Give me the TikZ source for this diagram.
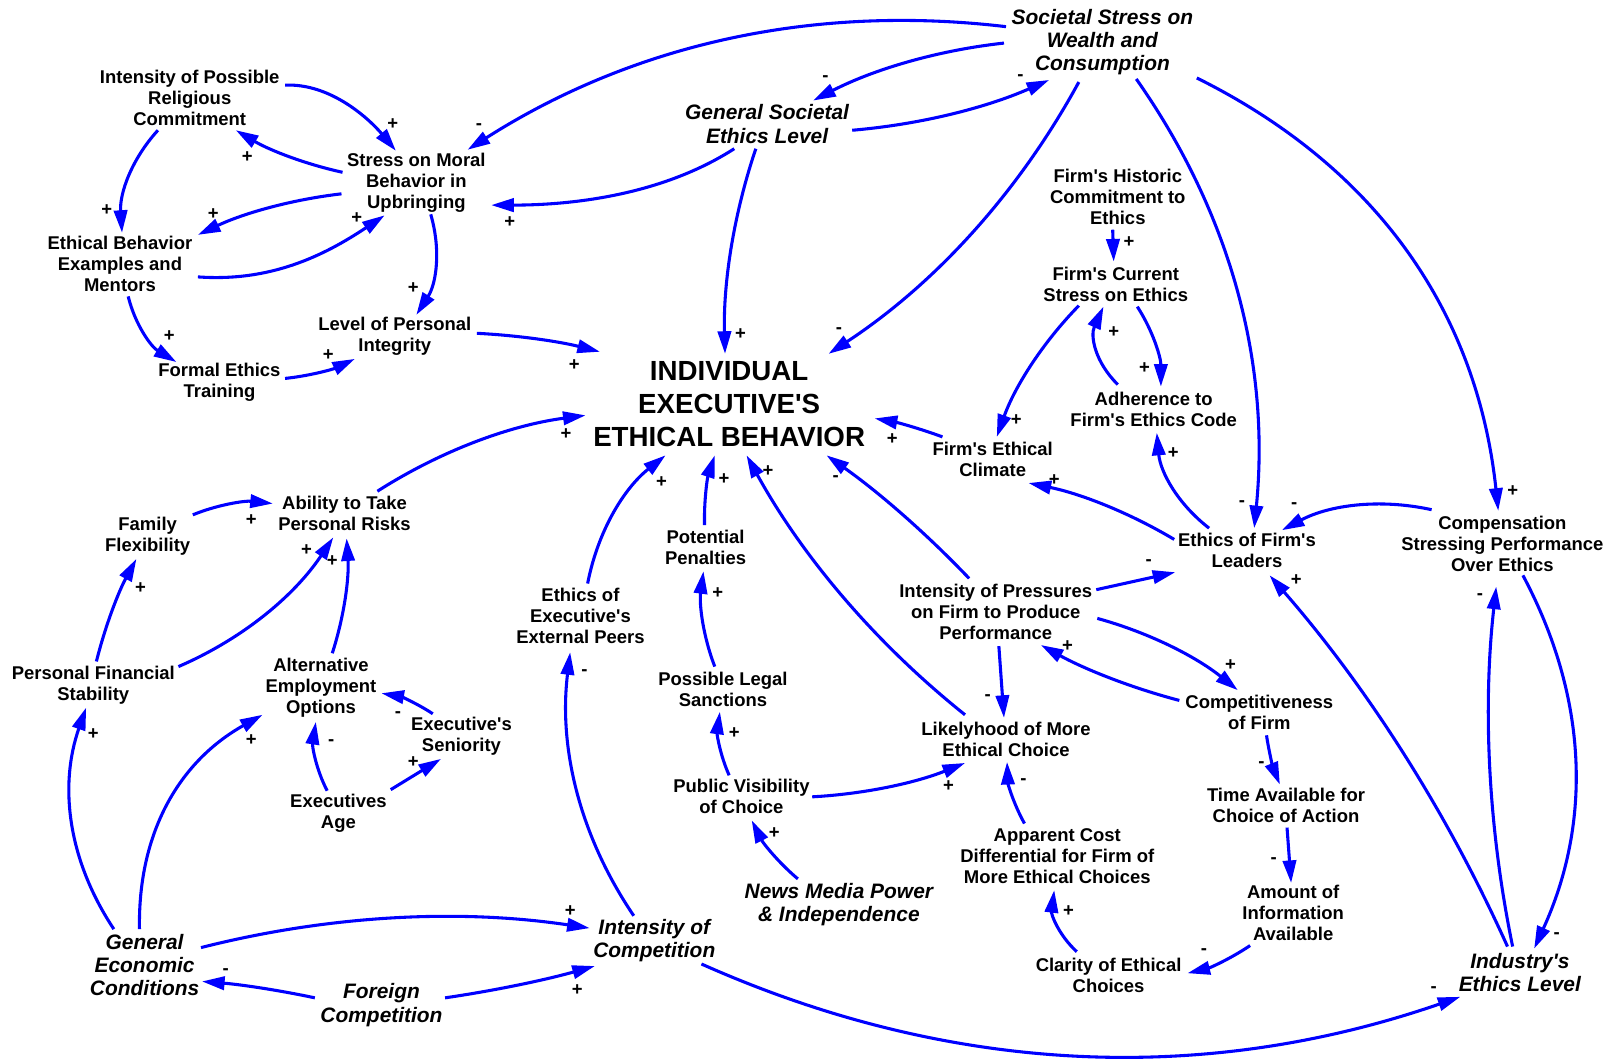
\documentclass[tikz,border=0pt]{standalone}
\usepackage{fontspec}
\setmainfont{Liberation Sans}
\usetikzlibrary{arrows.meta,calc}
\definecolor{linkblue}{RGB}{0,0,255}
\newcommand\ap{\textquotesingle}
\begin{document}
\begin{tikzpicture}[x=0.5pt,y=-0.5pt,
  v/.style={font=\bfseries\fontsize{9}{10.25}\selectfont,align=center,inner sep=0pt},
  ex/.style={font=\bfseries\itshape\fontsize{10.2}{11.3}\selectfont,align=center,inner sep=0pt},
  core/.style={font=\bfseries\fontsize{13.5}{16}\selectfont,align=center,inner sep=0pt},
  sg/.style={font=\bfseries\fontsize{9}{9}\selectfont,inner sep=0pt},
  lk/.style={draw=linkblue,line width=1.5pt,-{Triangle[length=11pt,width=6.5pt]}},
  bulge/.style={to path={.. controls ($(\tikztostart)!0.3333!(\tikztotarget)!#1!90:(\tikztotarget)$) and ($(\tikztotarget)!0.3333!(\tikztostart)!#1!-90:(\tikztostart)$) .. (\tikztotarget)}},
  bulge/.default=0pt]
\fill[white] (0,0) rectangle (1568,1035);
\useasboundingbox (0,0) rectangle (1568,1035);

% ---------- variables ----------
\node[ex] (SS) at (1075,41) {Societal Stress on\\Wealth and\\Consumption};
\node[ex] (GSE) at (748,121) {General Societal\\Ethics Level};
\node[v] (IPR) at (185,95) {Intensity of Possible\\Religious\\Commitment};
\node[v] (SMB) at (406,178) {Stress on Moral\\Behavior in\\Upbringing};
\node[v] (EBE) at (117,257) {Ethical Behavior\\Examples and\\Mentors};
\node[v] (LPI) at (385,328) {Level of Personal\\Integrity};
\node[v] (FET) at (214,373) {Formal Ethics\\Training};
\node[core] (IEEB) at (711,394) {INDIVIDUAL\\EXECUTIVE\ap S\\ETHICAL BEHAVIOR};
\node[v] (FHC) at (1090,192) {Firm\ap s Historic\\Commitment to\\Ethics};
\node[v] (FCS) at (1088,277) {Firm\ap s Current\\Stress on Ethics};
\node[v] (AFC) at (1125,399) {Adherence to\\Firm\ap s Ethics Code};
\node[v] (FEC) at (968,448) {Firm\ap s Ethical\\Climate};
\node[v] (EFL) at (1216,537) {Ethics of Firm\ap s\\Leaders};
\node[v] (CSP) at (1465,530) {Compensation\\Stressing Performance\\Over Ethics};
\node[v] (IPF) at (971,597) {Intensity of Pressures\\on Firm to Produce\\Performance};
\node[v] (CF) at (1228,695) {Competitiveness\\of Firm};
\node[v] (TA) at (1254,785) {Time Available for\\Choice of Action};
\node[v] (AI) at (1261,890) {Amount of\\Information\\Available};
\node[v] (CEC) at (1081,951) {Clarity of Ethical\\Choices};
\node[v] (ACD) at (1031,835) {Apparent Cost\\Differential for Firm of\\More Ethical Choices};
\node[v] (LMC) at (981,721) {Likelyhood of More\\Ethical Choice};
\node[v] (PVC) at (723,777) {Public Visibility\\of Choice};
\node[ex] (NMP) at (818,882) {News Media Power\\\& Independence};
\node[v] (PLS) at (705,672) {Possible Legal\\Sanctions};
\node[v] (PP) at (688,534) {Potential\\Penalties};
\node[v] (EEP) at (566,601) {Ethics of\\Executive\ap s\\External Peers};
\node[ex] (IC) at (638,917) {Intensity of\\Competition};
\node[v] (ATR) at (336,501) {Ability to Take\\Personal Risks};
\node[v] (FF) at (144,523) {Family\\Flexibility};
\node[v] (PFS) at (91,668) {Personal Financial\\Stability};
\node[v] (AEO) at (313,671) {Alternative\\Employment\\Options};
\node[v] (ES) at (450,718) {Executive\ap s\\Seniority};
\node[v] (EA) at (330,793) {Executives\\Age};
\node[ex] (GEC) at (141,941) {General\\Economic\\Conditions};
\node[ex] (FC) at (372,980) {Foreign\\Competition};
\node[ex] (IEL) at (1482,948) {Industry\ap s\\Ethics Level};

% ---------- links ----------
\draw[lk] ($(SS)+(-94,-15)$) to[bulge=-32pt] ($(SMB)+(50,-32)$);
\draw[lk] ($(SS)+(-96,1)$) to[bulge=-6pt] ($(GSE)+(45,-23)$);
\draw[lk] ($(GSE)+(83,6)$) to[bulge=-5.5pt] ($(SS)+(-52,37)$);
\draw[lk] ($(GSE)+(-32,24)$) .. controls +(-70,45) and +(80,0) .. ($(SMB)+(73,22)$);
\draw[lk] ($(IPR)+(93,-12)$) .. controls +(45,-2) and +(-25,-30) .. ($(SMB)+(-20,-31)$);
\draw[lk] ($(SMB)+(-72,-10)$) to[bulge=3pt] ($(IPR)+(45,32)$);
\draw[lk] ($(IPR)+(-31,32)$) to[bulge=-7.5pt] ($(EBE)+(2,-30)$);
\draw[lk] ($(SMB)+(-73,11)$) to[bulge=-4pt] ($(EBE)+(76,-28)$);
\draw[lk] ($(EBE)+(76,13)$) .. controls +(70,5) and +(-60,40) .. ($(SMB)+(-31,32)$);
\draw[lk] ($(EBE)+(8,32)$) to[bulge=-5.5pt] ($(FET)+(-42,-20)$);
\draw[lk] ($(FET)+(64,-4)$) to[bulge=-2pt] ($(LPI)+(-39,22)$);
\draw[lk] ($(SMB)+(14,31)$) to[bulge=7.5pt] ($(LPI)+(21,-21)$);
\draw[lk] ($(LPI)+(80,-3)$) to[bulge=2pt] ($(IEEB)+(-126,-51)$);
\draw[lk] ($(GSE)+(-11,24)$) to[bulge=-6pt] ($(IEEB)+(-4,-49)$);
\draw[lk] ($(SS)+(-23,39)$) to[bulge=15pt] ($(IEEB)+(97,-49)$);
\draw[lk] ($(SS)+(33,36)$) to[bulge=28pt] ($(EFL)+(7,-22)$);
\draw[lk] ($(SS)+(92,35)$) to[bulge=47pt] ($(CSP)+(-4,-32)$);
\draw[lk] ($(FHC)+(-5,32)$) to ($(FCS)+(-2,-22)$);
\draw[lk] ($(FCS)+(-36,21)$) to[bulge=-5.5pt] ($(FEC)+(4,-22)$);
\draw[lk] ($(FCS)+(21,22)$) to[bulge=4pt] ($(AFC)+(7,-22)$);
\draw[lk] ($(AFC)+(-35,-24)$) to[bulge=9pt] ($(FCS)+(-12,22)$);
\draw[lk] ($(EFL)+(-37,-22)$) to[bulge=7.7pt] ($(AFC)+(3,23)$);
\draw[lk] ($(EFL)+(-71,-11)$) to[bulge=-4.3pt] ($(FEC)+(35,23)$);
\draw[lk] ($(FEC)+(-49,-22)$) to[bulge=-1pt] ($(IEEB)+(142,14)$);
\draw[lk] ($(CSP)+(-69,-33)$) to[bulge=-9pt] ($(EFL)+(34,-20)$);
\draw[lk] ($(IPF)+(98,-22)$) to ($(EFL)+(-70,21)$);
\draw[lk] ($(IEL)+(-12,-25)$) to[bulge=-10.6pt] ($(EFL)+(22,24)$);
\draw[lk] ($(IEL)+(-7,-25)$) to[bulge=9.3pt] ($(CSP)+(-6,42)$);
\draw[lk] ($(CSP)+(20,31)$) to[bulge=30pt] ($(IEL)+(14,-23)$);
\draw[lk] ($(IPF)+(-26,-33)$) to[bulge=-3pt] ($(IEEB)+(95,50)$);
\draw[lk] ($(IPF)+(3,33)$) to ($(LMC)+(-2,-21)$);
\draw[lk] ($(IPF)+(99,6)$) to[bulge=5.3pt] ($(CF)+(-21,-22)$);
\draw[lk] ($(CF)+(-78,-12)$) to[bulge=3pt] ($(IPF)+(44,32)$);
\draw[lk] ($(CF)+(7,22)$) to[bulge=-1pt] ($(TA)+(-6,-20)$);
\draw[lk] ($(TA)+(1,22)$) to ($(AI)+(-2,-29)$);
\draw[lk] ($(AI)+(-42,32)$) to[bulge=2pt] ($(CEC)+(77,-2)$);
\draw[lk] ($(CEC)+(-31,-23)$) to[bulge=5.5pt] ($(ACD)+(-3,33)$);
\draw[lk] ($(ACD)+(-32,-32)$) to[bulge=2.5pt] ($(LMC)+(1,22)$);
\draw[lk] ($(LMC)+(-40,-24)$) to[bulge=11pt] ($(IEEB)+(17,50)$);
\draw[lk] ($(PVC)+(69,0)$) to[bulge=-4.2pt] ($(LMC)+(-40,23)$);
\draw[lk] ($(PVC)+(-12,-21)$) to[bulge=3pt] ($(PLS)+(-3,22)$);
\draw[lk] ($(NMP)+(-40,-25)$) to[bulge=2.5pt] ($(PVC)+(10,23)$);
\draw[lk] ($(PLS)+(-8,-22)$) to[bulge=4pt] ($(PP)+(-2,23)$);
\draw[lk] ($(PP)+(-1,-22)$) to[bulge=2pt] ($(IEEB)+(-14,50)$);
\draw[lk] ($(EEP)+(7,-32)$) to[bulge=9pt] ($(IEEB)+(-62,50)$);
\draw[lk] ($(IC)+(-20,-24)$) to[bulge=16.5pt] ($(EEP)+(-10,35)$);
\draw[lk] ($(IC)+(46,23)$) to[bulge=-48.7pt] ($(IEL)+(-58,24)$);
\draw[lk] ($(GEC)+(55,-17)$) to[bulge=12.7pt] ($(IC)+(-63,-12)$);
\draw[lk] ($(FC)+(62,-7)$) to[bulge=-1.6pt] ($(IC)+(-58,25)$);
\draw[lk] ($(FC)+(-65,-7)$) to[bulge=-1.2pt] ($(GEC)+(56,16)$);
\draw[lk] ($(GEC)+(-30,-35)$) to[bulge=18pt] ($(PFS)+(-7,22)$);
\draw[lk] ($(GEC)+(-5,-35)$) to[bulge=24pt] ($(AEO)+(-57,26)$);
\draw[lk] ($(PFS)+(3,-23)$) to[bulge=2.3pt] ($(FF)+(-11,22)$);
\draw[lk] ($(PFS)+(83,-18)$) to[bulge=-9.7pt] ($(ATR)+(-11,23)$);
\draw[lk] ($(FF)+(44,-21)$) to[bulge=3.3pt] ($(ATR)+(-70,-10)$);
\draw[lk] ($(AEO)+(11,-34)$) to[bulge=-3.6pt] ($(ATR)+(2,24)$);
\draw[lk] ($(ATR)+(32,-22)$) to[bulge=8pt] ($(IEEB)+(-140,11)$);
\draw[lk] ($(ES)+(-28,-22)$) to[bulge=-1.9pt] ($(AEO)+(59,5)$);
\draw[lk] ($(EA)+(-11,-22)$) to[bulge=3.7pt] ($(AEO)+(-5,33)$);
\draw[lk] ($(EA)+(51,-23)$) to ($(ES)+(-20,22)$);

% ---------- polarity signs ----------
\node[sg] (g01) at (467,123) {-};
\node[sg] (g02) at (805,77) {-};
\node[sg] (g03) at (995,76) {-};
\node[sg] (g04) at (497,217) {+};
\node[sg] (g05) at (383,121) {+};
\node[sg] (g06) at (241,153) {+};
\node[sg] (g07) at (104,205) {+};
\node[sg] (g08) at (208,209) {+};
\node[sg] (g09) at (348,213) {+};
\node[sg] (g10) at (165,328) {+};
\node[sg] (g11) at (320,346) {+};
\node[sg] (g12) at (403,281) {+};
\node[sg] (g13) at (560,356) {+};
\node[sg] (g14) at (722,326) {+};
\node[sg] (g15) at (818,322) {-};
\node[sg] (g16) at (1211,491) {-};
\node[sg] (g17) at (1475,479) {+};
\node[sg] (g18) at (1101,236) {+};
\node[sg] (g19) at (991,410) {+};
\node[sg] (g20) at (1116,359) {+};
\node[sg] (g21) at (1086,324) {+};
\node[sg] (g22) at (1144,442) {+};
\node[sg] (g23) at (1028,468) {+};
\node[sg] (g24) at (870,428) {+};
\node[sg] (g25) at (1262,493) {-};
\node[sg] (g26) at (1120,549) {-};
\node[sg] (g27) at (1264,566) {+};
\node[sg] (g28) at (1443,582) {-};
\node[sg] (g29) at (1518,912) {-};
\node[sg] (g30) at (815,467) {-};
\node[sg] (g31) at (963,680) {-};
\node[sg] (g32) at (1200,649) {+};
\node[sg] (g33) at (1041,630) {+};
\node[sg] (g34) at (1230,746) {-};
\node[sg] (g35) at (1242,839) {-};
\node[sg] (g36) at (1174,928) {-};
\node[sg] (g37) at (1042,888) {+};
\node[sg] (g38) at (998,762) {-};
\node[sg] (g39) at (749,459) {+};
\node[sg] (g40) at (925,767) {+};
\node[sg] (g41) at (716,715) {+};
\node[sg] (g42) at (755,812) {+};
\node[sg] (g43) at (700,578) {+};
\node[sg] (g44) at (706,467) {+};
\node[sg] (g45) at (645,470) {+};
\node[sg] (g46) at (570,656) {-};
\node[sg] (g47) at (1398,965) {-};
\node[sg] (g48) at (556,888) {+};
\node[sg] (g49) at (563,965) {+};
\node[sg] (g50) at (220,947) {-};
\node[sg] (g51) at (91,716) {+};
\node[sg] (g52) at (245,722) {+};
\node[sg] (g53) at (137,573) {+};
\node[sg] (g54) at (299,536) {+};
\node[sg] (g55) at (245,507) {+};
\node[sg] (g56) at (324,547) {+};
\node[sg] (g57) at (552,423) {+};
\node[sg] (g58) at (388,697) {-};
\node[sg] (g59) at (323,724) {-};
\node[sg] (g60) at (403,743) {+};
\end{tikzpicture}
\end{document}
